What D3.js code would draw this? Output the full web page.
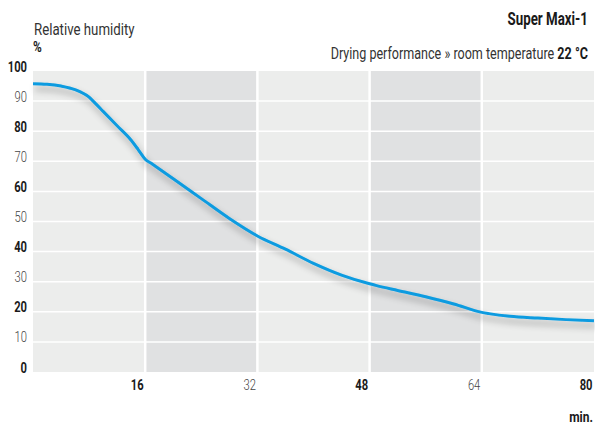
<!DOCTYPE html>
<html>
<head>
<meta charset="utf-8">
<script src="https://cdn.jsdelivr.net/npm/d3@7"></script>
<style>
  html, body { margin: 0; padding: 0; background: #fff; }
  svg { display: block; }
  text { font-family: Roboto, "Noto Sans", sans-serif; }
</style>
</head>
<body>
<svg id="chart" width="595" height="425"></svg>
<script>
// Drying time in minutes and relative humidity in %
const minutes  = [0, 2, 4, 6, 8, 9, 10, 12, 14, 15, 16, 17, 20, 24, 28, 32, 36, 40, 44, 48, 49, 52, 56, 60, 64, 65, 68, 72, 76, 80];
const humidity = [95.8, 95.6, 95, 93.8, 91.3, 89.0, 86.6, 81.8, 77, 73.9, 70.7, 69.1, 64.2, 57.6, 51, 45.2, 40.8, 36.1, 32.2, 29.3, 28.7, 27.1, 25, 22.6, 19.8, 19.4, 18.5, 17.9, 17.4, 17];

const yTicks = [0, 10, 20, 30, 40, 50, 60, 70, 80, 90, 100];
const xTicks = [16, 32, 48, 64, 80];
const bands  = [[0, 16], [16, 32], [32, 48], [48, 64], [64, 80]];

const NARROW = 0.74;      // horizontal squeeze for the condensed headings
const NARROW_TICK = 0.8;  // and for the tick numbers

const svg = d3.select("#chart");
const plotLeft = 33, plotRight = 594, plotTop = 71, plotBottom = 372;

const x = d3.scaleLinear().domain([0, 80]).range([plotLeft, plotRight]);
const y = d3.scaleLinear().domain([0, 100]).range([plotBottom, plotTop]);

// alternating column bands
svg.append("g").selectAll("rect").data(bands).join("rect")
  .attr("x", d => x(d[0]))
  .attr("y", plotTop)
  .attr("width", d => x(d[1]) - x(d[0]))
  .attr("height", plotBottom - plotTop)
  .attr("fill", (d, i) => i % 2 ? "#e0e1e2" : "#ecedec");

// white grid
svg.append("g").selectAll("line").data(yTicks.filter(v => v > 0 && v < 100)).join("line")
  .attr("x1", plotLeft).attr("x2", plotRight)
  .attr("y1", d => y(d)).attr("y2", d => y(d))
  .attr("stroke", "#fff").attr("stroke-width", 1.5);
svg.append("g").selectAll("line").data(xTicks.filter(v => v < 80)).join("line")
  .attr("x1", d => x(d)).attr("x2", d => x(d))
  .attr("y1", plotTop).attr("y2", plotBottom)
  .attr("stroke", "#fff").attr("stroke-width", 2.5);

// soft shadow under the curve
const defs = svg.append("defs");
const f = defs.append("filter").attr("id", "shadow")
  .attr("x", "-10%").attr("y", "-10%").attr("width", "120%").attr("height", "140%");
f.append("feGaussianBlur").attr("in", "SourceAlpha").attr("stdDeviation", 3.5).attr("result", "b");
f.append("feOffset").attr("in", "b").attr("dx", 2).attr("dy", 5).attr("result", "o");
f.append("feComponentTransfer").attr("in", "o").attr("result", "s")
  .append("feFuncA").attr("type", "linear").attr("slope", 0.35);
const m = f.append("feMerge");
m.append("feMergeNode").attr("in", "s");
m.append("feMergeNode").attr("in", "SourceGraphic");

const points = minutes.map((t, i) => [t, humidity[i]]);
const line = d3.line().x(d => x(d[0])).y(d => y(d[1])).curve(d3.curveMonotoneX);

svg.append("path")
  .datum(points)
  .attr("d", line)
  .attr("fill", "none")
  .attr("stroke", "#0a9be0")
  .attr("stroke-width", 3)
  .attr("stroke-linejoin", "round")
  .attr("filter", "url(#shadow)");

const strong = v => (v / 10) % 2 === 0;

// y axis labels
const yAxis = d3.axisLeft(y).tickValues(yTicks).tickSize(0).tickPadding(0).tickFormat(d3.format("d"));
const gy = svg.append("g").attr("transform", `translate(${plotLeft - 6},0)`).call(yAxis);
gy.select(".domain").remove();
gy.selectAll("text")
  .attr("x", 0).attr("dy", 0)
  .attr("transform", `scale(${NARROW_TICK},1)`)
  .attr("font-size", 14)
  .attr("font-weight", d => strong(d) ? 700 : 300)
  .attr("fill", d => strong(d) ? "#1a1a1a" : "#444");

// x axis labels, right-aligned at each grid line
const xAxis = d3.axisBottom(x).tickValues(xTicks).tickSize(0).tickPadding(0).tickFormat(d3.format("d"));
const gx = svg.append("g").attr("transform", `translate(-2,${plotBottom + 18})`).call(xAxis);
gx.select(".domain").remove();
gx.selectAll("text")
  .attr("x", 0).attr("y", 0).attr("dy", 0)
  .attr("transform", `scale(${NARROW_TICK},1)`)
  .attr("text-anchor", "end")
  .attr("font-size", 14)
  .attr("font-weight", (d, i) => i % 2 === 0 ? 700 : 300)
  .attr("fill", (d, i) => i % 2 === 0 ? "#1a1a1a" : "#444");

function label(px, py, size, weight, anchor, color, str, sx = NARROW) {
  return svg.append("text")
    .attr("transform", `translate(${px},${py}) scale(${sx},1)`)
    .attr("text-anchor", anchor)
    .attr("font-size", size)
    .attr("font-weight", weight)
    .attr("fill", color)
    .text(str);
}

label(593, 422, 15, 700, "end", "#1a1a1a", "min.", NARROW_TICK);

// titles
label(plotLeft + 1, 35, 17, 400, "start", "#333", "Relative humidity", 0.78);
label(plotLeft, 52, 14, 700, "start", "#1a1a1a", "%", 0.85);
label(588, 25, 18, 700, "end", "#1a1a1a", "Super Maxi-1");

const sub = label(588, 58.5, 17, 400, "end", "#333", null);
sub.append("tspan").text("Drying performance » room temperature ");
sub.append("tspan").attr("font-weight", 700).attr("fill", "#1a1a1a").text("22 °C");
</script>
</body>
</html>
